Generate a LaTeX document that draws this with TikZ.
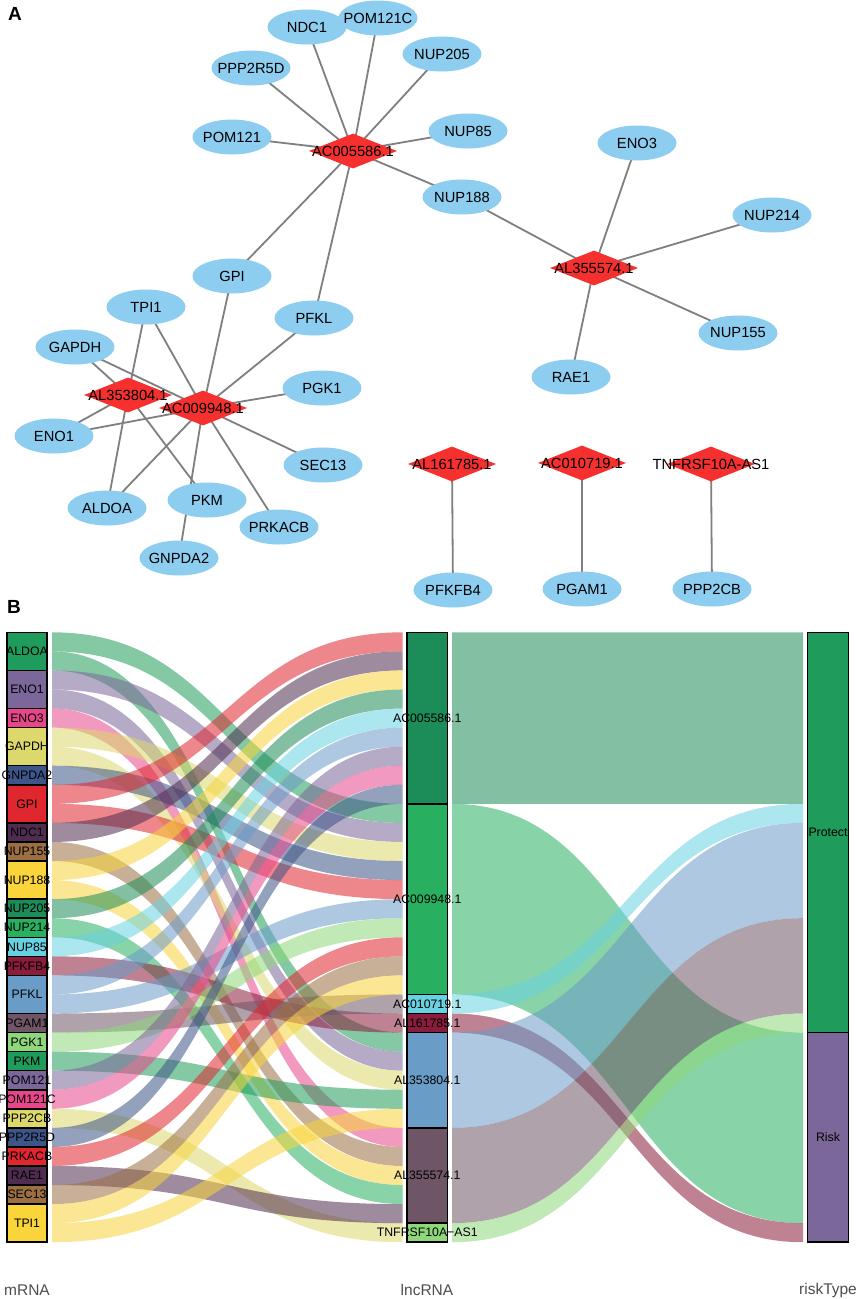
\documentclass[tikz,border=0pt]{standalone}
\usepackage{fontspec}
\setmainfont{Liberation Sans}
\usetikzlibrary{shapes.geometric}
\pgfdeclarelayer{background}
\pgfsetlayers{background,main}
\definecolor{genefill}{HTML}{8CCDF0}
\definecolor{lncred}{HTML}{F5302E}
\definecolor{edgegray}{HTML}{7F7F7F}
\definecolor{axgray}{HTML}{4D4D4D}
\definecolor{c1}{HTML}{1F9B5B}
\definecolor{c2}{HTML}{7B679A}
\definecolor{c3}{HTML}{E7478A}
\definecolor{c4}{HTML}{DCD86B}
\definecolor{c5}{HTML}{3D5588}
\definecolor{c6}{HTML}{E0262F}
\definecolor{c7}{HTML}{4F2D50}
\definecolor{c8}{HTML}{9C6F42}
\definecolor{c9}{HTML}{F9D53B}
\definecolor{c10}{HTML}{1C8C58}
\definecolor{c11}{HTML}{28AF5F}
\definecolor{c12}{HTML}{69D2E2}
\definecolor{c13}{HTML}{8A1C3C}
\definecolor{c14}{HTML}{6A9CC8}
\definecolor{c15}{HTML}{6E5667}
\definecolor{c16}{HTML}{8ED87B}
\newcommand{\gnode}[3]{\node[gene] (#1) at (#2) {}; \node[nlab] (#1-t) at (#1) {#3};}
\newcommand{\lnode}[3]{\node[lnc] (#1) at (#2) {}; \node[nlab] (#1-t) at (#1) {#3};}
\newcommand{\sflow}[6]{%
  \pgfmathsetmacro{\fya}{632.3+#3*19.06}%
  \pgfmathsetmacro{\fyb}{632.3+#4*19.06}%
  \pgfmathsetmacro{\fyc}{632.3+(#4+#5)*19.06}%
  \pgfmathsetmacro{\fyd}{632.3+(#3+#5)*19.06}%
  \pgfmathsetmacro{\fxm}{(#1+#2)/2}%
  \fill[#6, fill opacity=0.55] (#1,\fya) .. controls (\fxm,\fya) and (\fxm,\fyb) .. (#2,\fyb) -- (#2,\fyc) .. controls (\fxm,\fyc) and (\fxm,\fyd) .. (#1,\fyd) -- cycle;}
\newcommand{\stratum}[7]{%
  \pgfmathsetmacro{\ssa}{632.3+#4*19.06}%
  \pgfmathsetmacro{\ssb}{632.3+(#4+#5)*19.06}%
  \pgfmathsetmacro{\ssm}{(\ssa+\ssb)/2}%
  \pgfmathsetmacro{\ssx}{(#2+#3)/2}%
  \draw[fill=#6, line width=1.5pt] (#2,\ssa) rectangle (#3,\ssb);
  \node[slab] (#1) at (\ssx,\ssm) {#7};}
\begin{document}
\begin{tikzpicture}[x=1pt, y=-1pt,
  gene/.style={ellipse, fill=genefill, draw=none, minimum width=79pt, minimum height=35pt, inner sep=0pt},
  lnc/.style={diamond, fill=lncred, draw=none, minimum width=88pt, minimum height=35pt, inner sep=0pt},
  nlab/.style={font=\fontsize{14.7}{17}\selectfont, inner sep=0pt, text=black},
  slab/.style={font=\fontsize{12.3}{14}\selectfont, inner sep=0pt, text=black},
  axlab/.style={font=\fontsize{15.5}{18}\selectfont, inner sep=0pt, text=axgray},
  panel/.style={font=\fontsize{19}{22}\selectfont\bfseries, inner sep=0pt},
  edge/.style={draw=edgegray, line width=1.8pt}]
\useasboundingbox (0,0) rectangle (858,1299);

% ---------- Panel A ----------
\node[panel] (pA) at (15,14) {A};
\gnode{NDC1}{307,27}{NDC1}
\gnode{POM121C}{378,18}{POM121C}
\gnode{NUP205}{442,54}{NUP205}
\gnode{PPP2R5D}{251,68}{PPP2R5D}
\gnode{POM121}{232,137}{POM121}
\gnode{NUP85}{468,131}{NUP85}
\gnode{NUP188}{462,197}{NUP188}
\gnode{GPI}{232,276}{GPI}
\gnode{PFKL}{314,318}{PFKL}
\gnode{ENO3}{637,143}{ENO3}
\gnode{NUP214}{772,215}{NUP214}
\gnode{NUP155}{738,333}{NUP155}
\gnode{RAE1}{571,377}{RAE1}
\gnode{TPI1}{146,307}{TPI1}
\gnode{GAPDH}{75,347}{GAPDH}
\gnode{PGK1}{322,388}{PGK1}
\gnode{ENO1}{54,436}{ENO1}
\gnode{SEC13}{323,465}{SEC13}
\gnode{ALDOA}{107,508}{ALDOA}
\gnode{PKM}{207,500}{PKM}
\gnode{PRKACB}{279,527}{PRKACB}
\gnode{GNPDA2}{179,558}{GNPDA2}
\gnode{PFKFB4}{453,590}{PFKFB4}
\gnode{PGAM1}{582,589}{PGAM1}
\gnode{PPP2CB}{712,589}{PPP2CB}
\lnode{AC005586}{353,151}{AC005586.1}
\lnode{AL355574}{594,268}{AL355574.1}
\lnode{AL353804}{128,395}{AL353804.1}
\lnode{AC009948}{203,408}{AC009948.1}
\lnode{AL161785}{452,464}{AL161785.1}
\lnode{AC010719}{582,463}{AC010719.1}
\lnode{TNFRSF}{711,464}{TNFRSF10A-AS1}
\begin{pgfonlayer}{background}
\fill[white] (0,0) rectangle (858,1299);
\foreach \g in {NDC1,POM121C,NUP205,PPP2R5D,POM121,NUP85,NUP188,GPI,PFKL}
  \draw[edge] (AC005586.center) -- (\g.center);
\foreach \g in {NUP188,ENO3,NUP214,NUP155,RAE1}
  \draw[edge] (AL355574.center) -- (\g.center);
\foreach \g in {TPI1,GPI,PFKL,PGK1,SEC13,PRKACB,GNPDA2,ALDOA,ENO1,GAPDH}
  \draw[edge] (AC009948.center) -- (\g.center);
\foreach \g in {TPI1,GAPDH,ENO1,ALDOA,PKM}
  \draw[edge] (AL353804.center) -- (\g.center);
\draw[edge] (AL161785.center) -- (PFKFB4.center);
\draw[edge] (AC010719.center) -- (PGAM1.center);
\draw[edge] (TNFRSF.center) -- (PPP2CB.center);
\end{pgfonlayer}

% ---------- Panel B ----------
\node[panel] (pB) at (14,607) {B};
% mRNA -> lncRNA flows
\sflow{52}{402.5}{0}{9}{1}{c1}
\sflow{52}{402.5}{1}{21}{1}{c1}
\sflow{52}{402.5}{2}{10}{1}{c2}
\sflow{52}{402.5}{3}{22}{1}{c2}
\sflow{52}{402.5}{4}{26}{1}{c3}
\sflow{52}{402.5}{5}{11}{1}{c4}
\sflow{52}{402.5}{6}{23}{1}{c4}
\sflow{52}{402.5}{7}{12}{1}{c5}
\sflow{52}{402.5}{8}{0}{1}{c6}
\sflow{52}{402.5}{9}{13}{1}{c6}
\sflow{52}{402.5}{10}{1}{1}{c7}
\sflow{52}{402.5}{11}{27}{1}{c8}
\sflow{52}{402.5}{12}{2}{1}{c9}
\sflow{52}{402.5}{13}{28}{1}{c9}
\sflow{52}{402.5}{14}{3}{1}{c10}
\sflow{52}{402.5}{15}{29}{1}{c11}
\sflow{52}{402.5}{16}{4}{1}{c12}
\sflow{52}{402.5}{17}{20}{1}{c13}
\sflow{52}{402.5}{18}{5}{1}{c14}
\sflow{52}{402.5}{19}{14}{1}{c14}
\sflow{52}{402.5}{20}{19}{1}{c15}
\sflow{52}{402.5}{21}{15}{1}{c16}
\sflow{52}{402.5}{22}{24}{1}{c1}
\sflow{52}{402.5}{23}{6}{1}{c2}
\sflow{52}{402.5}{24}{7}{1}{c3}
\sflow{52}{402.5}{25}{31}{1}{c4}
\sflow{52}{402.5}{26}{8}{1}{c5}
\sflow{52}{402.5}{27}{16}{1}{c6}
\sflow{52}{402.5}{28}{30}{1}{c7}
\sflow{52}{402.5}{29}{17}{1}{c8}
\sflow{52}{402.5}{30}{18}{1}{c9}
\sflow{52}{402.5}{31}{25}{1}{c9}
% lncRNA -> riskType flows
\sflow{452}{803}{0}{0}{9}{c10}
\sflow{452}{803}{9}{21}{10}{c11}
\sflow{452}{803}{19}{9}{1}{c12}
\sflow{452}{803}{20}{31}{1}{c13}
\sflow{452}{803}{21}{10}{5}{c14}
\sflow{452}{803}{26}{15}{5}{c15}
\sflow{452}{803}{31}{20}{1}{c16}
% mRNA strata
\stratum{sALDOA}{7}{47}{0}{2}{c1}{ALDOA}
\stratum{sENO1}{7}{47}{2}{2}{c2}{ENO1}
\stratum{sENO3}{7}{47}{4}{1}{c3}{ENO3}
\stratum{sGAPDH}{7}{47}{5}{2}{c4}{GAPDH}
\stratum{sGNPDA2}{7}{47}{7}{1}{c5}{GNPDA2}
\stratum{sGPI}{7}{47}{8}{2}{c6}{GPI}
\stratum{sNDC1}{7}{47}{10}{1}{c7}{NDC1}
\stratum{sNUP155}{7}{47}{11}{1}{c8}{NUP155}
\stratum{sNUP188}{7}{47}{12}{2}{c9}{NUP188}
\stratum{sNUP205}{7}{47}{14}{1}{c10}{NUP205}
\stratum{sNUP214}{7}{47}{15}{1}{c11}{NUP214}
\stratum{sNUP85}{7}{47}{16}{1}{c12}{NUP85}
\stratum{sPFKFB4}{7}{47}{17}{1}{c13}{PFKFB4}
\stratum{sPFKL}{7}{47}{18}{2}{c14}{PFKL}
\stratum{sPGAM1}{7}{47}{20}{1}{c15}{PGAM1}
\stratum{sPGK1}{7}{47}{21}{1}{c16}{PGK1}
\stratum{sPKM}{7}{47}{22}{1}{c1}{PKM}
\stratum{sPOM121}{7}{47}{23}{1}{c2}{POM121}
\stratum{sPOM121C}{7}{47}{24}{1}{c3}{POM121C}
\stratum{sPPP2CB}{7}{47}{25}{1}{c4}{PPP2CB}
\stratum{sPPP2R5D}{7}{47}{26}{1}{c5}{PPP2R5D}
\stratum{sPRKACB}{7}{47}{27}{1}{c6}{PRKACB}
\stratum{sRAE1}{7}{47}{28}{1}{c7}{RAE1}
\stratum{sSEC13}{7}{47}{29}{1}{c8}{SEC13}
\stratum{sTPI1}{7}{47}{30}{2}{c9}{TPI1}
% lncRNA strata
\stratum{sAC005586}{407}{447.5}{0}{9}{c10}{AC005586.1}
\stratum{sAC009948}{407}{447.5}{9}{10}{c11}{AC009948.1}
\stratum{sAC010719}{407}{447.5}{19}{1}{c12}{AC010719.1}
\stratum{sAL161785}{407}{447.5}{20}{1}{c13}{AL161785.1}
\stratum{sAL353804}{407}{447.5}{21}{5}{c14}{AL353804.1}
\stratum{sAL355574}{407}{447.5}{26}{5}{c15}{AL355574.1}
\stratum{sTNFRSF}{407}{447.5}{31}{1}{c16}{TNFRSF10A−AS1}
% riskType strata
\stratum{sProtect}{807.5}{848.5}{0}{21}{c1}{Protect}
\stratum{sRisk}{807.5}{848.5}{21}{11}{c2}{Risk}
% axis labels
\node[axlab] (axm) at (27,1290) {mRNA};
\node[axlab] (axl) at (427,1290) {lncRNA};
\node[axlab] (axr) at (828,1290) {riskType};
\end{tikzpicture}
\end{document}
